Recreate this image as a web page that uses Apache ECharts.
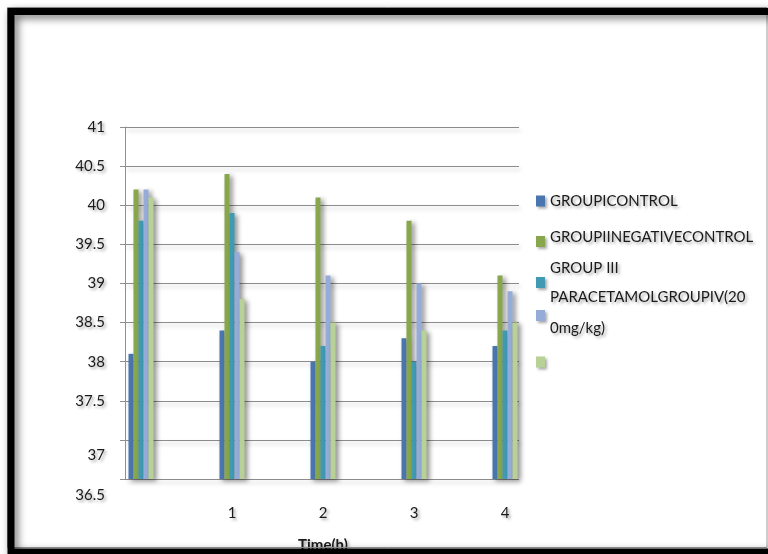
<!DOCTYPE html>
<html>
<head>
<meta charset="utf-8">
<script src="https://cdn.jsdelivr.net/npm/echarts@6/dist/echarts.min.js"></script>
<style>
  html, body { margin: 0; padding: 0; background: #ffffff; }
  #chart { width: 768px; height: 554px; }
</style>
</head>
<body>
<div id="chart"></div>
<script>
// Rectal temperature (°C) over time for five treatment groups
const timeLabels = ['', '1', '2', '3', '4'];
const seriesNames = ['GROUPICONTROL', 'GROUPIINEGATIVECONTROL', 'GROUP III', 'PARACETAMOLGROUPIV(200mg/kg)', ' '];
const groupI   = [38.1, 38.4, 38.0, 38.3, 38.2];
const groupII  = [40.2, 40.4, 40.1, 39.8, 39.1];
const groupIII = [39.8, 39.9, 38.2, 38.0, 38.4];
const groupIV  = [40.2, 39.4, 39.1, 39.0, 38.9];
const groupV   = [40.1, 38.8, 38.5, 38.4, 38.5];
const yMin = 36.5, yMax = 41, yStep = 0.5;
const axisTitle = 'Time(h)';

const seriesValues = [groupI, groupII, groupIII, groupIV, groupV];
const colors = ['#4a76b0', '#88a64c', '#3f9ab2', '#94acd7', '#b8d196'];

const FONT = 'Lato';
const shadowText = {
  textShadowColor: 'rgba(0,0,0,0.35)',
  textShadowBlur: 3,
  textShadowOffsetX: 2,
  textShadowOffsetY: 2
};
const baseText = Object.assign({ fontFamily: FONT, fontSize: 15, color: '#1a1a1a' }, shadowText);

const chart = echarts.init(document.getElementById('chart'), null, { renderer: 'canvas' });

// One legend block per entry so each label can sit where it belongs
const legendSpecs = [
  { top: 193.5, fmt: n => '{a|' + n + '}', rich: { a: { lineHeight: 18 } } },
  { top: 230,   fmt: n => '{a|' + n + '}\n{s| }', rich: { a: { lineHeight: 18 }, s: { lineHeight: 8, fontSize: 6 } } },
  { top: 261,   fmt: n => '{a|' + n + '}\n{s| }', rich: { a: { lineHeight: 16 }, s: { lineHeight: 28, fontSize: 6 } } },
  { top: 290,   fmt: n => '{a|' + n.slice(0, 21) + '}\n{b|' + n.slice(21) + '}', rich: { a: { lineHeight: 26 }, b: { lineHeight: 36 } } },
  { top: 356.5, fmt: () => '', rich: {} }
];

const legends = legendSpecs.map((spec, i) => {
  const rich = {};
  Object.keys(spec.rich).forEach(k => { rich[k] = Object.assign({}, baseText, spec.rich[k]); });
  return {
    data: [seriesNames[i]],
    orient: 'vertical',
    left: 536,
    top: spec.top,
    padding: 0,
    icon: 'rect',
    itemWidth: 9,
    itemHeight: 11,
    itemGap: 0,
    formatter: spec.fmt,
    itemStyle: { shadowBlur: 3, shadowColor: 'rgba(0,0,0,0.35)', shadowOffsetX: 2, shadowOffsetY: 2 },
    textStyle: Object.assign({}, baseText, { rich: rich }),
    selectedMode: true
  };
});

const yLabelRich = {
  n:   Object.assign({}, baseText),
  lo:  Object.assign({}, baseText, { padding: [30, 0, 0, 0] }),
  lo2: Object.assign({}, baseText, { padding: [32, 0, 0, 0] })
};

const option = {
  backgroundColor: '#ffffff',
  animation: false,
  legend: legends,
  grid: [
    { left: 125, top: 127, width: 394, height: 352, containLabel: false, outerBoundsMode: 'none' },
    { left: 95.5, top: 127, width: 455, height: 352, containLabel: false, outerBoundsMode: 'none' }
  ],
  xAxis: [
    { gridIndex: 0, type: 'category', data: timeLabels, show: false },
    {
      gridIndex: 1,
      type: 'category',
      data: timeLabels,
      axisLine: { show: false },
      axisTick: { show: false },
      axisLabel: Object.assign({ margin: 27 }, baseText),
      name: axisTitle,
      nameLocation: 'middle',
      nameGap: 59,
      nameTextStyle: Object.assign({}, baseText, { fontWeight: 'bold', fontSize: 15 })
    }
  ],
  yAxis: [
    {
      gridIndex: 0,
      type: 'value',
      min: yMin,
      max: yMax,
      interval: yStep,
      axisLine: { show: true, lineStyle: { color: '#8f8f8f', width: 1 } },
      axisTick: { show: true, length: 5, lineStyle: { color: '#8f8f8f' } },
      axisLabel: {
        margin: 20,
        formatter: v => {
          if (v === 37) return '{lo|37}';
          if (v === 36.5) return '{lo2|36.5}';
          return '{n|' + v + '}';
        },
        rich: yLabelRich
      },
      splitLine: {
        show: true,
        lineStyle: {
          color: '#8c8c8c',
          width: 1,
          shadowColor: 'rgba(0,0,0,0.25)',
          shadowBlur: 4,
          shadowOffsetX: 2,
          shadowOffsetY: 3
        }
      }
    },
    { gridIndex: 1, type: 'value', min: yMin, max: yMax, interval: yStep, show: false, splitLine: { show: false } }
  ],
  series: seriesValues.map((vals, i) => ({
    name: seriesNames[i],
    type: 'bar',
    xAxisIndex: 1,
    yAxisIndex: 1,
    data: vals,
    barWidth: 5,
    barGap: '0%',
    itemStyle: {
      color: colors[i],
      shadowBlur: 5,
      shadowColor: 'rgba(0,0,0,0.45)',
      shadowOffsetX: 3,
      shadowOffsetY: 2
    }
  })),
  graphic: [
    {
      type: 'rect',
      z: 90,
      silent: true,
      shape: { x: 7.5, y: 7.5, width: 759.5, height: 540 },
      style: { fill: null, stroke: '#9a9a9a', lineWidth: 1 }
    },
    {
      type: 'rect',
      z: 100,
      silent: true,
      shape: { x: 11, y: 11.5, width: 775, height: 540.5 },
      style: {
        fill: null,
        stroke: '#000000',
        lineWidth: 7,
        shadowBlur: 8,
        shadowColor: 'rgba(0,0,0,0.6)',
        shadowOffsetX: 3,
        shadowOffsetY: 3
      }
    }
  ]
};

chart.setOption(option);
</script>
</body>
</html>
